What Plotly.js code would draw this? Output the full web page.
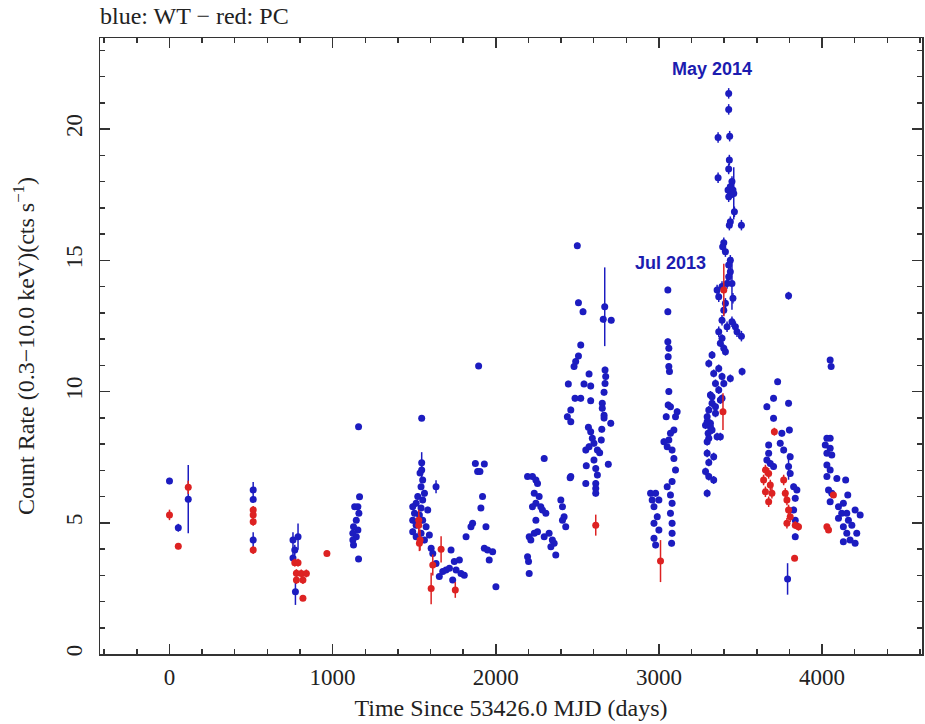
<!DOCTYPE html>
<html>
<head>
<meta charset="utf-8">
<script src="https://cdn.plot.ly/plotly-3.0.1.min.js"></script>
<style>html,body{margin:0;padding:0;background:#fff;}#chart{width:925px;height:724px;}</style>
</head>
<body>
<div id="chart"></div>
<script>
// WT mode (blue): time since MJD 53426.0 (days), count rate, 1-sigma error
var wtT = [
  0, 54, 115,
  513, 513, 513,
  757, 788, 768, 757, 772,
  1159, 1165, 1155, 1135, 1161, 1145, 1128, 1155, 1124, 1145, 1124, 1128, 1159,
  1546, 1546, 1546, 1536, 1552, 1542, 1563, 1522, 1552, 1512, 1491, 1542, 1583, 1502, 1532, 1491, 1552, 1512, 1573, 1491, 1542, 1593, 1512, 1563,
  1634, 1604, 1614, 1634, 1654, 1675, 1695, 1716, 1726, 1746, 1757, 1777, 1787, 1807, 1736,
  1818, 1848, 1858, 1875, 1930, 1889, 1903, 1895, 1919, 1909, 1940, 1930, 1950, 1960, 1981, 2001,
  2195, 2205, 2215, 2195, 2201, 2205, 2225, 2246, 2256, 2236, 2246, 2225, 2266, 2276, 2246, 2286, 2297, 2307, 2256, 2236, 2297, 2327, 2347, 2358, 2368, 2338, 2399, 2409, 2419, 2409, 2429, 2460,
  2500, 2507, 2535, 2668, 2659, 2708, 2521, 2507, 2490, 2480, 2670, 2674, 2670, 2664, 2445, 2541, 2572, 2582, 2486, 2521, 2582, 2653, 2653, 2664, 2705, 2664, 2460, 2439, 2460, 2568, 2582, 2592, 2602, 2650, 2647, 2623, 2552, 2572, 2637, 2690, 2555, 2602, 2613, 2623, 2613, 2613, 2456, 2552, 2613,
  3055, 3055, 3055, 3061, 3057, 3061, 3065, 3061, 3057, 3071, 3112, 3102, 3045, 3092, 3071, 3061, 3031, 3051, 3081, 3092, 3102, 3081, 3051, 3071, 3081, 3071, 3081, 3081, 3078, 2949, 2980, 2959, 3000, 2970, 2990, 2970, 3000, 2970, 2980,
  3428, 3428, 3363, 3434, 3432, 3428, 3363, 3448, 3438, 3424, 3454, 3438, 3428, 3459, 3463, 3438, 3432, 3506, 3398, 3391,
  3408, 3438, 3428, 3438, 3428, 3418, 3448, 3387, 3357, 3367, 3454, 3408, 3398, 3387, 3448, 3418, 3469, 3367, 3479, 3506,
  3387, 3377, 3398, 3408, 3510, 3326, 3306, 3336, 3367, 3387, 3398, 3438, 3347, 3367, 3316, 3326, 3387, 3306, 3347, 3296,
  3316, 3286, 3302, 3326, 3306, 3377, 3326, 3377, 3347, 3357, 3296, 3296, 3336, 3286, 3306, 3336, 3296, 3296, 3316, 3306,
  3795, 3728, 3703, 3662, 3795, 3703, 3800, 3754, 3673, 3744, 3765, 3673, 3805, 3662, 3683, 3703, 3795, 3805, 3826, 3846, 3836, 3826, 3836, 3836, 3789,
  4050, 4056, 4030, 4050, 4020, 4050, 4030, 4060, 4030, 4050, 4030, 4091, 4145, 4040, 4060, 4050, 4101, 4158, 4131, 4121, 4152, 4203, 4234, 4101, 4162, 4131, 4183, 4152, 4213, 4131, 4203, 4172
];
var wtRate = [
  6.59, 4.81, 5.9,
  6.25, 5.89, 4.34,
  4.34, 4.47, 3.96, 3.66, 2.37,
  8.66, 5.99, 5.61, 5.61, 5.36, 5.1, 4.85, 4.72, 4.6, 4.47, 4.34, 4.15, 3.62,
  8.98, 7.29, 7.01, 6.9, 6.63, 6.37, 6.12, 6.0, 5.87, 5.74, 5.61, 5.56, 5.49, 5.36, 5.3, 5.1, 5.1, 4.91, 4.85, 4.66, 4.6, 4.53, 4.47, 4.34,
  6.37, 4.03, 3.83, 3.45, 2.95, 3.14, 3.2, 3.27, 3.96, 3.52, 3.2, 3.58, 3.07, 3.0, 2.82,
  4.47, 4.85, 4.98, 7.26, 7.24, 6.95, 6.95, 10.97, 6.0, 5.56, 4.85, 4.03, 3.96, 3.58, 3.9, 2.56,
  6.76, 4.47, 4.34, 3.71, 3.52, 3.07, 6.76, 6.63, 6.5, 6.12, 5.74, 5.61, 6.0, 5.61, 5.1, 5.49, 7.45, 5.36, 4.66, 4.6, 4.47, 4.6, 4.34, 4.22, 3.77, 4.09, 5.87, 5.61, 5.23, 5.1, 4.85, 6.76,
  15.55, 13.38, 13.04, 13.23, 12.75, 12.72, 11.77, 11.35, 11.14, 10.95, 10.82, 10.57, 10.31, 9.97, 10.29, 10.29, 10.67, 10.21, 9.74, 9.74, 9.65, 9.55, 9.36, 9.1, 8.79, 8.99, 9.3, 9.04, 8.85, 8.64, 8.47, 8.22, 8.03, 8.56, 8.15, 7.77, 7.77, 7.9, 7.67, 7.23, 7.17, 7.39, 7.07, 6.82, 6.5, 6.12, 6.72, 6.5, 6.31,
  13.87, 13.04, 11.9, 11.65, 11.33, 10.95, 10.76, 10.0, 9.49, 9.42, 9.23, 9.04, 9.04, 8.53, 8.41, 8.15, 8.09, 7.9, 7.77, 7.45, 7.01, 6.57, 6.37, 6.06, 5.74, 5.36, 4.98, 4.6, 4.22, 6.12, 6.12, 5.87, 5.87, 5.61, 5.23, 4.98, 4.72, 4.41, 4.15,
  21.36, 20.75, 19.68, 19.73, 18.82, 18.48, 18.15, 18.0, 17.8, 17.68, 17.68, 17.49, 17.42, 17.55, 16.85, 16.47, 16.34, 16.34, 15.67, 15.52,
  15.33, 15.0, 14.82, 14.56, 14.37, 14.12, 14.12, 14.0, 13.87, 13.61, 13.55, 13.36, 13.1, 12.72, 12.66, 12.47, 12.47, 12.28, 12.28, 12.11,
  12.03, 11.84, 11.65, 11.52, 10.76, 11.39, 11.07, 10.69, 10.88, 10.57, 10.31, 10.5, 10.31, 10.06, 9.87, 9.55, 9.74, 9.3, 9.17, 9.04,
  8.79, 8.72, 8.41, 8.53, 8.22, 8.28, 9.8, 9.68, 9.42, 8.28, 8.09, 7.65, 7.52, 6.95, 6.76, 6.63, 6.12, 8.85, 8.66, 7.3,
  13.65, 10.37, 9.74, 9.42, 9.55, 8.98, 8.53, 8.41, 7.96, 8.03, 7.77, 7.65, 7.52, 7.39, 7.26, 7.14, 7.14, 6.88, 6.37, 6.25, 5.93, 5.49, 5.1, 4.47, 2.86,
  11.2, 10.95, 8.22, 8.22, 7.96, 7.84, 7.65, 7.58, 7.2, 7.01, 6.76, 6.69, 6.63, 6.25, 6.12, 5.8, 5.61, 6.06, 5.74, 5.36, 5.36, 5.49, 5.3, 5.17, 5.1, 4.85, 4.91, 4.6, 4.6, 4.28, 4.22, 4.34
];
var wtErr = [
  0.12, 0.15, 1.3,
  0.3, 0.12, 0.3,
  0.3, 0.5, 0.2, 0.2, 0.5,
  0.1, 0.1, 0.1, 0.1, 0.1, 0.1, 0.1, 0.1, 0.1, 0.1, 0.1, 0.1, 0.1,
  0.1, 0.4, 0.3, 0.12, 0.12, 0.12, 0.12, 0.12, 0.12, 0.12, 0.12, 0.12, 0.12, 0.12, 0.12, 0.12, 0.12, 0.12, 0.12, 0.12, 0.12, 0.12, 0.12, 0.12,
  0.25, 0.1, 0.1, 0.1, 0.1, 0.1, 0.1, 0.1, 0.1, 0.1, 0.1, 0.1, 0.1, 0.1, 0.1,
  0.1, 0.1, 0.1, 0.1, 0.1, 0.1, 0.1, 0.1, 0.1, 0.1, 0.1, 0.1, 0.1, 0.1, 0.1, 0.1,
  0.1, 0.1, 0.1, 0.1, 0.1, 0.1, 0.1, 0.1, 0.1, 0.1, 0.1, 0.1, 0.1, 0.1, 0.1, 0.1, 0.1, 0.1, 0.1, 0.1, 0.1, 0.1, 0.1, 0.1, 0.1, 0.1, 0.1, 0.1, 0.1, 0.1, 0.1, 0.1,
  0.12, 0.12, 0.12, 1.5, 0.12, 0.12, 0.12, 0.12, 0.12, 0.12, 0.12, 0.12, 0.12, 0.12, 0.12, 0.12, 0.12, 0.12, 0.12, 0.12, 0.12, 0.12, 0.12, 0.12, 0.12, 0.12, 0.12, 0.12, 0.12, 0.12, 0.12, 0.12, 0.12, 0.12, 0.12, 0.12, 0.12, 0.12, 0.12, 0.12, 0.12, 0.12, 0.12, 0.12, 0.12, 0.12, 0.12, 0.12, 0.12,
  0.12, 0.12, 0.12, 0.12, 0.12, 0.12, 0.12, 0.12, 0.12, 0.12, 0.12, 0.12, 0.12, 0.12, 0.12, 0.12, 0.12, 0.12, 0.12, 0.12, 0.12, 0.12, 0.12, 0.12, 0.12, 0.12, 0.12, 0.12, 0.12, 0.12, 0.12, 0.12, 0.12, 0.12, 0.12, 0.12, 0.12, 0.12, 0.12,
  0.2, 0.2, 0.2, 0.2, 0.2, 0.2, 0.2, 0.2, 0.2, 0.2, 0.2, 0.2, 0.2, 1.0, 0.2, 0.2, 0.2, 0.2, 0.2, 0.2,
  0.2, 0.2, 0.2, 0.2, 0.2, 0.2, 1.0, 0.2, 0.2, 0.2, 0.2, 0.2, 0.2, 0.2, 0.2, 0.2, 0.2, 0.2, 0.2, 0.2,
  0.15, 0.15, 0.15, 0.15, 0.15, 0.15, 0.15, 0.15, 0.15, 0.15, 0.15, 0.15, 0.15, 0.15, 0.15, 0.15, 0.15, 0.15, 0.15, 0.15,
  0.15, 0.15, 0.15, 0.15, 0.15, 0.15, 0.15, 0.15, 0.15, 0.15, 0.15, 0.15, 0.15, 0.15, 0.15, 0.15, 0.15, 0.15, 0.15, 0.15,
  0.15, 0.12, 0.12, 0.12, 0.12, 0.12, 0.12, 0.12, 0.12, 0.12, 0.12, 0.12, 0.12, 0.12, 0.12, 0.12, 0.5, 0.12, 0.12, 0.12, 0.12, 0.12, 0.12, 0.12, 0.6,
  0.1, 0.1, 0.1, 0.1, 0.1, 0.1, 0.1, 0.1, 0.1, 0.1, 0.1, 0.1, 0.1, 0.1, 0.1, 0.1, 0.1, 0.1, 0.1, 0.1, 0.1, 0.1, 0.1, 0.1, 0.1, 0.1, 0.1, 0.1, 0.1, 0.1, 0.1, 0.1
];

// PC mode (red)
var pcT = [
  0, 54, 115,
  513, 513, 513, 513,
  768, 788, 778, 808, 839, 778, 818, 818,
  965,
  1528, 1528, 1536, 1532,
  1614, 1604, 1665, 1752,
  2613, 3010, 3398, 3393,
  3708, 3653, 3673, 3642, 3683, 3653, 3693, 3673, 3765, 3775,
  3785, 3795, 3805, 3785, 3836, 3856, 3832,
  4030, 4040, 4070
];
var pcRate = [
  5.3, 4.11, 6.35,
  5.49, 5.3, 5.04, 3.96,
  3.48, 3.48, 3.08, 3.07, 3.07, 2.82, 2.82, 2.12,
  3.83,
  5.1, 4.91, 4.34, 4.22,
  3.39, 2.5, 3.99, 2.44,
  4.91, 3.54, 13.87, 9.23,
  8.47, 7.01, 6.88, 6.63, 6.44, 6.18, 6.12, 5.8, 6.63, 6.12,
  5.87, 5.49, 5.23, 4.98, 4.91, 4.85, 3.65,
  4.85, 4.72, 6.06
];
var pcErr = [
  0.2, 0.12, 0.25,
  0.15, 0.15, 0.15, 0.15,
  0.15, 0.15, 0.15, 0.15, 0.15, 0.15, 0.15, 0.1,
  0.1,
  0.4, 0.4, 0.4, 0.3,
  0.4, 0.6, 0.5, 0.3,
  0.4, 0.8, 1.0, 0.7,
  0.15, 0.2, 0.2, 0.2, 0.2, 0.2, 0.2, 0.2, 0.2, 0.2,
  0.2, 0.2, 0.2, 0.2, 0.15, 0.15, 0.1,
  0.1, 0.1, 0.1
];

var labelText = ['May 2014', 'Jul 2013'];
var labelT = [3326, 3074];
var labelRate = [22.3, 14.9];

var blue = '#1c1cc0';
var red = '#dd2222';
var serif = 'Liberation Serif, Times New Roman, serif';

var traces = [
  {
    type: 'scatter', mode: 'markers', name: 'WT',
    x: wtT, y: wtRate,
    error_y: {type: 'data', array: wtErr, visible: true, color: blue, thickness: 1.5, width: 0},
    marker: {color: blue, size: 7}
  },
  {
    type: 'scatter', mode: 'markers', name: 'PC',
    x: pcT, y: pcRate,
    error_y: {type: 'data', array: pcErr, visible: true, color: red, thickness: 1.5, width: 0},
    marker: {color: red, size: 7}
  }
];

var annotations = labelText.map(function (t, i) {
  return {
    x: labelT[i], y: labelRate[i], xref: 'x', yref: 'y', text: '<b>' + t + '</b>',
    showarrow: false, font: {family: 'Liberation Sans, Arial, sans-serif', size: 18, color: '#1c1cb0'}
  };
});

var axisCommon = {
  showgrid: false, zeroline: false, showline: true, linecolor: '#333', linewidth: 1.5,
  mirror: 'ticks', ticks: 'inside', ticklen: 10, tickwidth: 1.5, tickcolor: '#333',
  tickfont: {family: serif, size: 23, color: '#222'}, automargin: false
};

var layout = {
  width: 925, height: 724,
  margin: {l: 100, r: 3, t: 38, b: 70},
  paper_bgcolor: '#fff', plot_bgcolor: '#fff',
  showlegend: false,
  title: {
    text: 'blue: WT \u2212 red: PC', x: 100 / 925, xanchor: 'left', xref: 'container',
    y: 1 - 16 / 724, yanchor: 'middle', yref: 'container',
    font: {family: serif, size: 24, color: '#222'}
  },
  xaxis: Object.assign({}, axisCommon, {
    range: [-426, 4613], tickmode: 'linear', tick0: 0, dtick: 1000, ticklabelstandoff: 2,
    minor: {dtick: 200, tick0: 0, ticks: 'inside', ticklen: 5, tickwidth: 1.5, tickcolor: '#333'},
    title: {text: 'Time Since 53426.0 MJD (days)', font: {family: serif, size: 24, color: '#222'}, standoff: 10}
  }),
  yaxis: Object.assign({}, axisCommon, {
    range: [0, 23.47], tickmode: 'linear', tick0: 0, dtick: 5, tickangle: -90, ticklabelstandoff: 7,
    minor: {dtick: 1, tick0: 0, ticks: 'inside', ticklen: 5, tickwidth: 1.5, tickcolor: '#333'},
    title: {text: 'Count Rate (0.3\u221210.0 keV)(cts s<sup>\u22121</sup>)', font: {family: serif, size: 24, color: '#222'}, standoff: 21}
  }),
  annotations: annotations
};

Plotly.newPlot('chart', traces, layout, {displayModeBar: false, staticPlot: true});
</script>
</body>
</html>
